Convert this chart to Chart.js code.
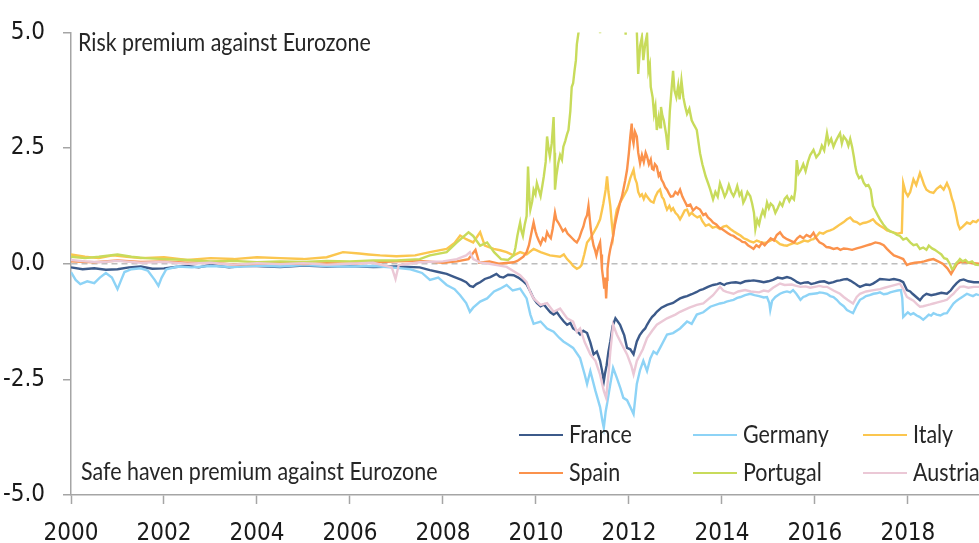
<!DOCTYPE html>
<html><head><meta charset="utf-8">
<script src="https://cdn.jsdelivr.net/npm/chart.js@4.4.1/dist/chart.umd.min.js"></script>
<style>html,body{margin:0;padding:0;background:#fff;overflow:hidden}#wrap{width:979px;height:543px}</style>
</head><body><div id="wrap"><canvas id="c" width="979" height="543"></canvas></div>
<script>
// ---------- data (decimal years / spread in %-points vs Eurozone) ----------
const seriesNames = ['France', 'Germany', 'Italy', 'Spain', 'Portugal', 'Austria'];
const xTickYears = [2000, 2002, 2004, 2006, 2008, 2010, 2012, 2014, 2016, 2018];
const yTickValues = [-5, -2.5, 0, 2.5, 5];
const topNote = 'Risk premium against Eurozone';
const bottomNote = 'Safe haven premium against Eurozone';

const franceDates = [2000.00,2000.25,2000.50,2000.75,2001.00,2001.25,2001.50,2001.75,2002.00,2002.25,2002.50,2002.75,2003.00,2003.40,2003.70,2004.00,2004.50,2005.00,2005.50,2006.00,2006.50,2007.00,2007.50,2007.72,2007.90,2008.08,2008.25,2008.40,2008.50,2008.58,2008.65,2008.72,2008.80,2008.90,2009.02,2009.15,2009.22,2009.30,2009.40,2009.52,2009.62,2009.73,2009.80,2009.88,2009.95,2010.02,2010.10,2010.17,2010.24,2010.31,2010.38,2010.45,2010.52,2010.60,2010.67,2010.74,2010.80,2010.88,2010.95,2011.02,2011.10,2011.17,2011.24,2011.31,2011.38,2011.42,2011.46,2011.49,2011.52,2011.56,2011.60,2011.65,2011.71,2011.76,2011.81,2011.86,2011.90,2011.96,2012.03,2012.10,2012.14,2012.17,2012.23,2012.30,2012.35,2012.39,2012.45,2012.50,2012.55,2012.60,2012.70,2012.82,2012.95,2013.02,2013.10,2013.18,2013.25,2013.35,2013.46,2013.53,2013.60,2013.70,2013.81,2013.90,2013.96,2014.05,2014.10,2014.20,2014.30,2014.40,2014.50,2014.60,2014.68,2014.80,2014.90,2015.00,2015.10,2015.20,2015.30,2015.40,2015.48,2015.55,2015.62,2015.69,2015.77,2015.85,2015.92,2016.00,2016.10,2016.20,2016.30,2016.40,2016.47,2016.54,2016.62,2016.69,2016.77,2016.85,2016.92,2016.97,2017.05,2017.10,2017.18,2017.25,2017.33,2017.40,2017.50,2017.60,2017.70,2017.83,2017.90,2017.98,2018.05,2018.10,2018.18,2018.26,2018.33,2018.40,2018.50,2018.60,2018.72,2018.84,2018.92,2018.98,2019.05,2019.12,2019.20,2019.30,2019.42,2019.53];
const franceValues = [-0.08,-0.12,-0.10,-0.13,-0.12,-0.08,-0.06,-0.11,-0.10,-0.07,-0.05,-0.08,-0.03,-0.08,-0.05,-0.05,-0.07,-0.04,-0.06,-0.05,-0.07,-0.06,-0.08,-0.14,-0.18,-0.22,-0.29,-0.35,-0.40,-0.48,-0.50,-0.44,-0.40,-0.33,-0.29,-0.22,-0.28,-0.30,-0.24,-0.25,-0.30,-0.38,-0.45,-0.60,-0.75,-0.85,-0.92,-0.88,-0.97,-1.05,-1.10,-1.05,-1.15,-1.25,-1.32,-1.28,-1.40,-1.45,-1.53,-1.45,-1.50,-1.70,-1.96,-1.90,-2.10,-2.30,-2.54,-2.35,-2.20,-1.90,-1.68,-1.35,-1.18,-1.25,-1.32,-1.45,-1.55,-1.82,-1.85,-1.96,-1.80,-1.68,-1.55,-1.45,-1.40,-1.32,-1.22,-1.15,-1.10,-1.04,-0.95,-0.89,-0.85,-0.80,-0.75,-0.72,-0.70,-0.66,-0.61,-0.57,-0.55,-0.50,-0.46,-0.44,-0.42,-0.46,-0.43,-0.41,-0.40,-0.42,-0.38,-0.37,-0.36,-0.38,-0.40,-0.38,-0.35,-0.30,-0.32,-0.29,-0.31,-0.35,-0.40,-0.43,-0.41,-0.40,-0.44,-0.42,-0.39,-0.38,-0.42,-0.40,-0.37,-0.36,-0.34,-0.33,-0.37,-0.42,-0.47,-0.50,-0.47,-0.45,-0.46,-0.43,-0.38,-0.33,-0.34,-0.35,-0.33,-0.36,-0.40,-0.57,-0.60,-0.65,-0.72,-0.79,-0.70,-0.65,-0.68,-0.66,-0.63,-0.65,-0.58,-0.50,-0.42,-0.36,-0.34,-0.38,-0.40,-0.40];

const germanyDates = [2000.00,2000.10,2000.20,2000.35,2000.50,2000.62,2000.75,2000.88,2001.00,2001.08,2001.15,2001.30,2001.50,2001.65,2001.80,2001.88,2001.95,2002.05,2002.30,2002.60,2003.00,2003.50,2004.00,2004.50,2005.00,2005.50,2006.00,2006.50,2007.00,2007.30,2007.55,2007.72,2007.90,2008.08,2008.25,2008.37,2008.50,2008.58,2008.65,2008.80,2008.95,2009.10,2009.23,2009.37,2009.50,2009.66,2009.80,2009.88,2009.95,2010.10,2010.24,2010.38,2010.50,2010.59,2010.70,2010.80,2010.95,2011.05,2011.10,2011.17,2011.28,2011.38,2011.43,2011.46,2011.50,2011.53,2011.60,2011.66,2011.74,2011.82,2011.88,2011.96,2012.03,2012.10,2012.17,2012.24,2012.31,2012.39,2012.46,2012.53,2012.60,2012.67,2012.82,2012.95,2013.10,2013.25,2013.35,2013.46,2013.60,2013.75,2013.96,2014.05,2014.10,2014.18,2014.25,2014.33,2014.40,2014.50,2014.61,2014.70,2014.80,2014.90,2014.97,2015.02,2015.04,2015.08,2015.15,2015.25,2015.32,2015.40,2015.47,2015.53,2015.60,2015.69,2015.75,2015.80,2015.88,2015.97,2016.05,2016.10,2016.18,2016.26,2016.33,2016.40,2016.47,2016.54,2016.62,2016.69,2016.76,2016.82,2016.90,2016.97,2017.04,2017.10,2017.18,2017.26,2017.33,2017.40,2017.48,2017.55,2017.62,2017.70,2017.78,2017.85,2017.88,2017.90,2017.95,2018.00,2018.06,2018.12,2018.19,2018.25,2018.33,2018.40,2018.45,2018.50,2018.55,2018.62,2018.70,2018.77,2018.84,2018.92,2018.98,2019.05,2019.12,2019.20,2019.27,2019.34,2019.40,2019.47,2019.53];
const germanyValues = [-0.18,-0.35,-0.44,-0.38,-0.42,-0.30,-0.20,-0.30,-0.55,-0.35,-0.18,-0.12,-0.10,-0.15,-0.35,-0.48,-0.30,-0.12,-0.06,-0.08,-0.05,-0.07,-0.04,-0.06,-0.03,-0.05,-0.06,-0.05,-0.09,-0.12,-0.20,-0.35,-0.30,-0.46,-0.55,-0.68,-0.85,-1.04,-0.95,-0.82,-0.75,-0.60,-0.54,-0.46,-0.58,-0.54,-0.75,-1.10,-1.30,-1.25,-1.40,-1.47,-1.60,-1.68,-1.75,-1.82,-2.04,-2.40,-2.60,-2.32,-2.75,-3.10,-3.40,-3.55,-3.20,-3.03,-2.60,-2.25,-2.47,-2.70,-2.90,-2.95,-3.10,-3.25,-2.60,-2.30,-2.10,-2.32,-2.05,-1.90,-1.95,-1.82,-1.53,-1.50,-1.40,-1.25,-1.30,-1.10,-1.05,-0.93,-0.86,-0.84,-0.82,-0.80,-0.78,-0.74,-0.72,-0.68,-0.65,-0.68,-0.70,-0.73,-0.72,-0.85,-1.00,-0.80,-0.72,-0.65,-0.62,-0.60,-0.62,-0.57,-0.65,-0.78,-0.72,-0.70,-0.66,-0.65,-0.64,-0.62,-0.63,-0.65,-0.70,-0.72,-0.78,-0.86,-0.92,-1.00,-1.04,-1.07,-0.90,-0.78,-0.74,-0.70,-0.68,-0.65,-0.64,-0.62,-0.66,-0.65,-0.62,-0.60,-0.58,-0.57,-0.75,-1.15,-1.10,-1.05,-1.10,-1.07,-1.12,-1.15,-1.21,-1.15,-1.10,-1.12,-1.07,-1.10,-1.12,-1.08,-1.07,-0.95,-0.86,-0.80,-0.75,-0.70,-0.65,-0.68,-0.70,-0.66,-0.68];

const italyDates = [2000.00,2000.30,2000.60,2000.90,2001.20,2001.50,2002.00,2002.50,2003.00,2003.50,2004.00,2004.50,2005.00,2005.50,2005.85,2006.20,2006.40,2006.65,2007.00,2007.40,2007.72,2008.08,2008.25,2008.37,2008.50,2008.65,2008.80,2008.90,2009.09,2009.23,2009.37,2009.52,2009.66,2009.80,2009.95,2010.10,2010.30,2010.52,2010.60,2010.67,2010.75,2010.80,2010.88,2010.94,2010.98,2011.04,2011.10,2011.17,2011.24,2011.31,2011.38,2011.42,2011.45,2011.50,2011.53,2011.56,2011.60,2011.63,2011.66,2011.70,2011.74,2011.78,2011.81,2011.88,2011.96,2012.03,2012.10,2012.13,2012.17,2012.20,2012.24,2012.28,2012.32,2012.36,2012.39,2012.43,2012.47,2012.53,2012.57,2012.62,2012.67,2012.71,2012.75,2012.79,2012.82,2012.87,2012.91,2012.95,2013.00,2013.05,2013.10,2013.15,2013.20,2013.25,2013.30,2013.35,2013.40,2013.47,2013.53,2013.58,2013.65,2013.72,2013.80,2013.88,2013.96,2014.03,2014.10,2014.18,2014.25,2014.33,2014.40,2014.47,2014.54,2014.61,2014.68,2014.75,2014.82,2014.90,2014.97,2015.05,2015.10,2015.18,2015.25,2015.33,2015.40,2015.47,2015.55,2015.62,2015.69,2015.77,2015.85,2015.92,2015.97,2016.04,2016.10,2016.18,2016.26,2016.33,2016.40,2016.47,2016.54,2016.62,2016.69,2016.76,2016.83,2016.90,2016.97,2017.04,2017.10,2017.18,2017.25,2017.32,2017.40,2017.47,2017.55,2017.62,2017.70,2017.78,2017.87,2017.90,2017.95,2018.00,2018.05,2018.12,2018.18,2018.26,2018.30,2018.35,2018.40,2018.47,2018.55,2018.62,2018.70,2018.77,2018.84,2018.90,2018.95,2018.98,2019.03,2019.08,2019.12,2019.18,2019.27,2019.34,2019.40,2019.47,2019.53];
const italyValues = [0.20,0.15,0.12,0.18,0.15,0.12,0.14,0.08,0.12,0.10,0.14,0.12,0.10,0.14,0.25,0.22,0.20,0.18,0.16,0.18,0.25,0.32,0.45,0.61,0.53,0.46,0.68,0.39,0.32,0.29,0.25,0.18,0.25,0.20,0.32,0.25,0.18,0.15,0.20,0.10,0.02,-0.05,-0.11,-0.08,-0.03,0.20,0.46,0.55,0.67,0.80,0.96,1.15,1.30,1.60,1.89,1.55,1.25,0.90,0.61,0.95,1.17,1.25,1.32,1.45,1.60,1.85,2.03,1.85,1.74,1.55,1.46,1.50,1.40,1.50,1.45,1.40,1.35,1.32,1.45,1.55,1.60,1.45,1.39,1.25,1.17,1.25,1.15,1.20,1.10,1.05,0.96,1.05,1.15,1.17,1.05,1.10,1.05,1.00,1.03,0.92,0.82,0.85,0.78,0.80,0.75,0.80,0.82,0.75,0.70,0.65,0.61,0.55,0.52,0.48,0.46,0.50,0.47,0.45,0.46,0.50,0.53,0.48,0.42,0.40,0.39,0.42,0.45,0.43,0.46,0.50,0.48,0.52,0.53,0.60,0.67,0.65,0.70,0.72,0.75,0.80,0.85,0.90,0.96,1.00,0.92,0.90,0.85,0.88,0.89,0.92,0.96,0.88,0.82,0.78,0.72,0.70,0.67,0.65,0.67,1.74,1.55,1.46,1.55,1.82,1.70,1.96,1.85,1.70,1.60,1.55,1.53,1.62,1.68,1.60,1.74,1.60,1.40,1.32,1.10,0.85,0.75,0.80,0.89,0.86,0.92,0.90,0.96];

const spainDates = [2000.00,2000.50,2001.00,2001.50,2002.00,2002.50,2003.00,2003.50,2004.00,2004.50,2005.00,2005.50,2006.00,2006.50,2007.00,2007.50,2008.00,2008.30,2008.55,2008.70,2008.78,2009.00,2009.20,2009.52,2009.60,2009.66,2009.73,2009.80,2009.85,2009.88,2009.92,2009.95,2009.99,2010.02,2010.06,2010.10,2010.15,2010.20,2010.24,2010.28,2010.32,2010.36,2010.41,2010.44,2010.48,2010.53,2010.58,2010.63,2010.68,2010.73,2010.78,2010.83,2010.88,2010.93,2010.98,2011.02,2011.06,2011.10,2011.13,2011.16,2011.18,2011.21,2011.24,2011.27,2011.30,2011.34,2011.38,2011.40,2011.42,2011.45,2011.47,2011.49,2011.51,2011.53,2011.54,2011.57,2011.60,2011.63,2011.66,2011.70,2011.74,2011.78,2011.81,2011.85,2011.88,2011.92,2011.96,2012.00,2012.03,2012.06,2012.08,2012.10,2012.13,2012.17,2012.20,2012.24,2012.28,2012.32,2012.36,2012.39,2012.43,2012.47,2012.50,2012.53,2012.56,2012.60,2012.64,2012.67,2012.70,2012.74,2012.78,2012.82,2012.86,2012.90,2012.95,2013.00,2013.05,2013.10,2013.15,2013.20,2013.25,2013.32,2013.38,2013.45,2013.53,2013.60,2013.65,2013.70,2013.76,2013.81,2013.88,2013.94,2014.00,2014.07,2014.13,2014.19,2014.25,2014.32,2014.38,2014.44,2014.50,2014.56,2014.62,2014.68,2014.74,2014.80,2014.86,2014.92,2014.97,2015.05,2015.12,2015.18,2015.25,2015.32,2015.40,2015.47,2015.55,2015.62,2015.68,2015.75,2015.82,2015.90,2015.97,2016.03,2016.10,2016.18,2016.25,2016.32,2016.40,2016.48,2016.55,2016.62,2016.70,2016.80,2016.90,2017.00,2017.10,2017.20,2017.30,2017.40,2017.48,2017.55,2017.62,2017.70,2017.80,2017.90,2017.98,2018.05,2018.15,2018.26,2018.35,2018.45,2018.55,2018.65,2018.75,2018.85,2018.93,2019.00,2019.06,2019.12,2019.22,2019.30,2019.42,2019.53];
const spainValues = [0.05,0.03,0.07,0.04,0.05,0.02,0.03,-0.02,0.00,0.02,-0.01,0.01,0.00,0.03,0.05,0.06,0.02,0.05,0.10,0.30,0.02,0.05,0.00,0.03,0.06,0.10,0.15,0.25,0.40,0.55,0.75,0.89,0.70,0.60,0.50,0.42,0.55,0.50,0.68,0.60,0.55,0.75,1.10,0.95,0.89,0.80,0.70,0.75,0.65,0.60,0.55,0.50,0.46,0.55,0.70,0.80,0.96,1.05,1.25,0.95,0.75,0.55,0.39,0.30,0.18,0.35,0.46,0.20,-0.11,-0.35,-0.54,-0.30,-0.75,-0.35,-0.11,0.15,0.32,0.45,0.60,0.85,1.03,1.20,1.32,1.45,1.60,1.80,2.03,2.40,2.75,3.03,2.70,2.60,2.85,2.75,2.40,2.17,2.35,2.20,2.40,2.32,2.15,2.25,2.05,2.03,2.15,2.10,1.90,1.95,1.82,1.75,1.65,1.60,1.52,1.45,1.46,1.55,1.50,1.60,1.45,1.35,1.25,1.28,1.15,1.22,1.17,1.05,1.08,1.00,0.95,0.89,0.85,0.78,0.75,0.70,0.66,0.62,0.60,0.55,0.52,0.47,0.46,0.40,0.36,0.32,0.40,0.36,0.45,0.40,0.46,0.55,0.50,0.62,0.68,0.58,0.53,0.50,0.46,0.55,0.60,0.55,0.62,0.58,0.67,0.55,0.46,0.42,0.36,0.35,0.32,0.34,0.30,0.33,0.32,0.30,0.33,0.36,0.39,0.42,0.46,0.44,0.40,0.32,0.25,0.18,0.14,0.10,-0.03,0.00,0.02,0.03,0.05,0.08,0.10,0.05,0.00,-0.10,-0.22,-0.10,0.00,0.03,0.04,0.02,0.01,0.00];

const portugalDates = [2000.00,2000.30,2000.60,2001.00,2001.30,2001.60,2002.00,2002.50,2003.00,2003.50,2004.00,2004.50,2005.00,2005.50,2006.00,2006.50,2007.00,2007.50,2007.72,2008.08,2008.30,2008.55,2008.65,2008.80,2008.95,2009.10,2009.25,2009.40,2009.52,2009.56,2009.60,2009.63,2009.66,2009.69,2009.72,2009.76,2009.80,2009.83,2009.86,2009.88,2009.92,2009.95,2009.99,2010.02,2010.06,2010.10,2010.14,2010.17,2010.21,2010.24,2010.27,2010.30,2010.34,2010.38,2010.40,2010.41,2010.44,2010.48,2010.52,2010.56,2010.59,2010.63,2010.67,2010.70,2010.74,2010.77,2010.80,2010.83,2010.86,2010.88,2010.93,2011.10,2011.30,2011.38,2011.45,2011.60,2011.80,2011.93,2012.00,2012.08,2012.17,2012.20,2012.24,2012.28,2012.31,2012.35,2012.39,2012.42,2012.45,2012.47,2012.51,2012.54,2012.57,2012.60,2012.62,2012.64,2012.67,2012.69,2012.72,2012.75,2012.80,2012.84,2012.88,2012.92,2012.95,2012.98,2013.02,2013.06,2013.09,2013.13,2013.17,2013.21,2013.25,2013.30,2013.35,2013.40,2013.46,2013.50,2013.53,2013.58,2013.62,2013.65,2013.70,2013.75,2013.81,2013.86,2013.91,2013.96,2014.01,2014.06,2014.10,2014.15,2014.20,2014.25,2014.29,2014.33,2014.38,2014.42,2014.46,2014.50,2014.55,2014.61,2014.65,2014.69,2014.72,2014.76,2014.80,2014.84,2014.88,2014.92,2014.97,2015.01,2015.05,2015.10,2015.15,2015.20,2015.25,2015.30,2015.35,2015.40,2015.45,2015.50,2015.55,2015.58,2015.61,2015.65,2015.70,2015.75,2015.80,2015.85,2015.90,2015.97,2016.03,2016.10,2016.15,2016.20,2016.26,2016.30,2016.35,2016.40,2016.45,2016.50,2016.54,2016.58,2016.62,2016.68,2016.72,2016.76,2016.80,2016.84,2016.87,2016.90,2016.95,2017.00,2017.05,2017.10,2017.15,2017.20,2017.25,2017.30,2017.35,2017.40,2017.47,2017.55,2017.62,2017.70,2017.77,2017.83,2017.90,2017.97,2018.05,2018.12,2018.19,2018.26,2018.33,2018.40,2018.45,2018.52,2018.58,2018.65,2018.72,2018.78,2018.84,2018.90,2018.95,2018.98,2019.03,2019.08,2019.12,2019.18,2019.24,2019.30,2019.38,2019.45,2019.53];
const portugalValues = [0.15,0.12,0.15,0.20,0.15,0.12,0.10,0.08,0.05,0.06,0.03,0.05,0.04,0.06,0.05,0.07,0.07,0.10,0.18,0.25,0.46,0.68,0.60,0.39,0.46,0.25,0.10,0.08,0.18,0.35,0.60,0.75,0.89,0.70,0.60,0.85,1.03,2.10,1.40,1.17,1.35,1.60,1.50,1.74,1.60,1.46,1.70,1.89,2.20,2.75,2.50,2.32,2.60,3.17,2.40,1.60,1.90,2.17,2.35,2.25,2.53,2.65,2.80,2.89,3.30,3.82,3.90,4.17,4.40,4.74,5.10,6.50,7.80,4.98,8.50,10.50,9.00,4.95,11.00,12.00,5.03,4.10,4.70,4.90,4.40,4.75,4.96,4.17,4.30,3.82,3.60,3.24,3.40,2.89,3.05,3.17,2.95,3.39,3.20,3.10,2.80,2.46,3.30,3.80,4.17,3.75,3.60,3.85,3.55,3.96,3.60,3.40,3.24,3.35,3.10,3.00,2.89,2.60,2.39,2.15,2.00,1.89,1.75,1.60,1.39,1.55,1.45,1.74,1.60,1.45,1.53,1.70,1.55,1.46,1.55,1.68,1.48,1.55,1.32,1.40,1.55,1.46,1.30,1.10,0.75,0.95,0.85,1.03,1.15,1.05,1.32,1.20,1.30,1.25,1.10,1.20,1.32,1.25,1.40,1.46,1.35,1.45,1.39,1.60,2.24,1.95,2.03,2.15,2.00,2.20,2.35,2.46,2.30,2.39,2.55,2.45,2.82,2.60,2.70,2.53,2.65,2.75,2.82,2.60,2.75,2.67,2.55,2.70,2.53,2.30,2.10,1.96,1.85,1.89,1.75,1.68,1.70,1.60,1.25,1.15,1.05,0.96,0.85,0.75,0.70,0.67,0.62,0.60,0.52,0.55,0.46,0.40,0.42,0.32,0.35,0.30,0.39,0.33,0.30,0.25,0.20,0.12,0.10,0.00,-0.12,-0.10,0.00,0.05,0.10,0.05,0.08,0.02,0.05,-0.02,-0.03];

const austriaDates = [2000.00,2000.30,2000.60,2001.00,2001.50,2002.00,2002.50,2003.00,2003.50,2004.00,2004.50,2005.00,2005.50,2006.00,2006.50,2006.90,2006.98,2007.05,2007.50,2008.00,2008.30,2008.50,2008.58,2008.65,2008.80,2009.00,2009.16,2009.37,2009.55,2009.66,2009.80,2009.88,2009.95,2010.10,2010.24,2010.38,2010.52,2010.67,2010.80,2010.88,2010.95,2011.05,2011.17,2011.28,2011.38,2011.46,2011.51,2011.56,2011.60,2011.66,2011.74,2011.85,2011.96,2012.05,2012.10,2012.17,2012.30,2012.39,2012.50,2012.60,2012.82,2013.00,2013.10,2013.30,2013.46,2013.60,2013.81,2013.96,2014.03,2014.10,2014.18,2014.25,2014.35,2014.50,2014.62,2014.80,2014.90,2015.00,2015.10,2015.25,2015.35,2015.50,2015.60,2015.69,2015.80,2015.90,2016.00,2016.10,2016.18,2016.26,2016.40,2016.54,2016.62,2016.70,2016.82,2016.90,2016.97,2017.10,2017.26,2017.40,2017.50,2017.65,2017.83,2017.90,2017.98,2018.05,2018.12,2018.20,2018.26,2018.33,2018.40,2018.48,2018.55,2018.62,2018.70,2018.78,2018.84,2018.92,2018.98,2019.05,2019.12,2019.20,2019.30,2019.42,2019.53];
const austriaValues = [0.08,0.05,0.03,0.06,0.02,0.04,0.00,0.02,-0.02,0.01,-0.01,0.01,-0.02,0.00,0.02,-0.08,-0.33,-0.03,0.03,0.05,0.10,0.18,0.25,0.10,0.03,0.00,-0.03,-0.07,-0.18,-0.25,-0.40,-0.61,-0.75,-0.89,-0.85,-1.04,-0.97,-1.18,-1.25,-1.47,-1.40,-1.70,-1.96,-2.10,-2.40,-2.75,-2.90,-2.40,-1.90,-1.32,-1.53,-1.75,-1.96,-2.20,-2.39,-2.10,-1.85,-1.61,-1.45,-1.32,-1.18,-1.10,-1.04,-0.95,-0.89,-0.86,-0.68,-0.50,-0.58,-0.61,-0.63,-0.65,-0.60,-0.57,-0.60,-0.62,-0.58,-0.60,-0.52,-0.43,-0.46,-0.45,-0.48,-0.50,-0.49,-0.52,-0.50,-0.48,-0.50,-0.50,-0.58,-0.65,-0.72,-0.78,-0.86,-0.72,-0.65,-0.60,-0.57,-0.55,-0.52,-0.48,-0.43,-0.55,-0.72,-0.76,-0.80,-0.88,-0.93,-0.92,-0.90,-0.88,-0.86,-0.84,-0.82,-0.80,-0.78,-0.70,-0.65,-0.57,-0.50,-0.49,-0.52,-0.50,-0.50];

// ---------- styling ----------
const seriesColors = ['#3c5a8a', '#8dd3f6', '#fbc64f', '#fb924c', '#c8db5b', '#ebc8d6'];
const drawOrder = [5, 4, 3, 2, 1, 0]; // later series painted on top
const tickFont = "'Liberation Sans Narrow','Arial Narrow','DejaVu Sans Condensed',sans-serif";
const noteFont = "Lato, 'Open Sans', sans-serif";
const axisGrey = '#a5a5a5';

const allDates = [franceDates, germanyDates, italyDates, spainDates, portugalDates, austriaDates];
const allValues = [franceValues, germanyValues, italyValues, spainValues, portugalValues, austriaValues];

const datasets = seriesNames.map((name, i) => ({
  label: name,
  data: allDates[i].map((d, k) => ({ x: d, y: allValues[i][k] })),
  borderColor: seriesColors[i],
  backgroundColor: seriesColors[i],
  borderWidth: 2.4,
  pointRadius: 0,
  tension: 0,
  fill: false,
  order: drawOrder[i]
}));

function stretchedText(ctx, text, x, y, size, sy) {
  ctx.save();
  ctx.font = size + 'px ' + noteFont;
  ctx.textBaseline = 'middle';
  ctx.textAlign = 'left';
  ctx.fillStyle = '#262626';
  ctx.translate(x, y);
  ctx.scale(1, sy);
  ctx.fillText(text, 0, 0);
  ctx.restore();
}
function fitSize(ctx, text, targetWidth) {
  ctx.save();
  ctx.font = '20px ' + noteFont;
  const w = ctx.measureText(text).width;
  ctx.restore();
  return 20 * targetWidth / w;
}

const overlayPlugin = {
  id: 'overlay',
  afterDraw(chart) {
    const ctx = chart.ctx;
    const area = chart.chartArea;
    const size = fitSize(ctx, topNote, 293);
    const sy = 1.15;
    stretchedText(ctx, topNote, area.left + 7, 43, size, sy);
    stretchedText(ctx, bottomNote, area.left + 10, 472, size, sy);
    const colX = [519, 693, 863];
    const rowY = [435, 473];
    chart.data.datasets.forEach((ds, i) => {
      const x = colX[i % 3], y = rowY[Math.floor(i / 3)];
      ctx.save();
      ctx.strokeStyle = ds.borderColor;
      ctx.lineWidth = 2;
      ctx.beginPath();
      ctx.moveTo(x, y); ctx.lineTo(x + 44, y);
      ctx.stroke();
      ctx.restore();
      stretchedText(ctx, ds.label, x + 50, y, size, sy);
    });
  }
};

new Chart(document.getElementById('c'), {
  type: 'line',
  data: { datasets },
  plugins: [overlayPlugin],
  options: {
    responsive: false,
    animation: false,
    devicePixelRatio: 1,
    layout: { padding: { top: 28, right: 0, left: 0, bottom: 0 } },
    plugins: { legend: { display: false }, tooltip: { enabled: false } },
    scales: {
      x: {
        type: 'linear',
        min: 2000,
        max: 2019.53,
        afterFit(scale) { scale.height = 48; },
        afterBuildTicks(scale) { scale.ticks = xTickYears.map(v => ({ value: v })); },
        ticks: { callback: v => String(v), color: '#1a1a1a', font: { family: tickFont, size: 24, lineHeight: 1 }, padding: 18, maxRotation: 0, autoSkip: false },
        grid: { drawOnChartArea: false, drawTicks: true, tickLength: 9, tickColor: axisGrey, tickWidth: 1.5 },
        border: { color: axisGrey, width: 1.5 }
      },
      y: {
        min: -5,
        max: 5,
        afterFit(scale) { scale.width = 71; },
        afterBuildTicks(scale) { scale.ticks = yTickValues.map(v => ({ value: v })); },
        ticks: { callback: v => v.toFixed(1), color: '#1a1a1a', font: { family: tickFont, size: 24 }, padding: 18 },
        grid: {
          drawOnChartArea: true, drawTicks: true, tickLength: 8, tickColor: axisGrey, tickWidth: 1.5,
          color: c => (c.tick && c.tick.value === 0) ? '#bdbdbd' : 'rgba(0,0,0,0)',
          lineWidth: 1.5
        },
        border: { color: axisGrey, width: 1.5, dash: c => (c.tick && c.tick.value === 0) ? [6, 4] : [] }
      }
    }
  }
});
</script></body></html>
